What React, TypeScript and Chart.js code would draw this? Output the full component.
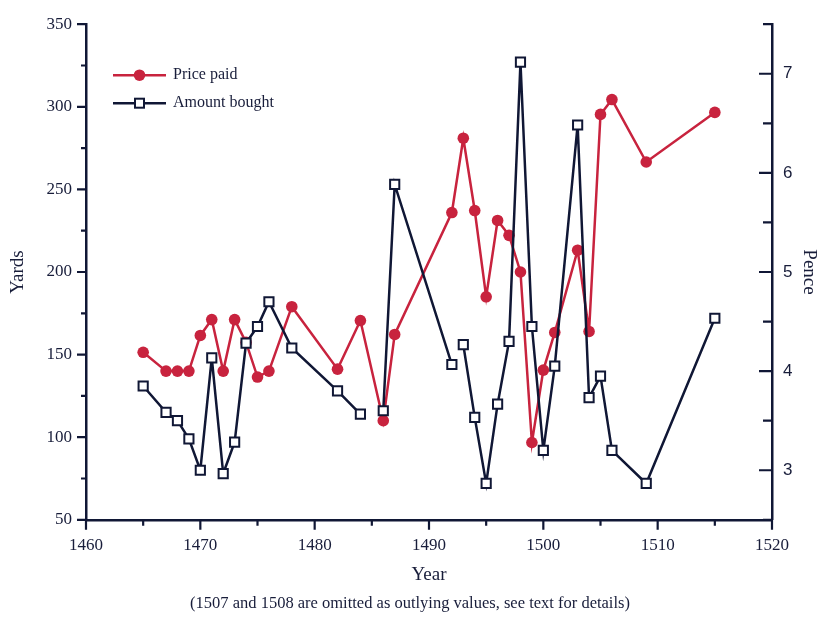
import React, { useEffect, useRef } from 'react';
import { Chart, registerables } from 'chart.js';

Chart.register(...registerables);

// ---- data ----
const years = [1465, 1467, 1468, 1469, 1470, 1471, 1472, 1473, 1474, 1475, 1476, 1478, 1482, 1484, 1486, 1487, 1492, 1493, 1494, 1495, 1496, 1497, 1498, 1499, 1500, 1501, 1503, 1504, 1505, 1506, 1509, 1515];
const pricePaid = [4.19, 4.0, 4.0, 4.0, 4.36, 4.52, 4.0, 4.52, 4.29, 3.94, 4.0, 4.65, 4.02, 4.51, 3.5, 4.37, 5.6, 6.35, 5.62, 4.75, 5.52, 5.37, 5.0, 3.28, 4.01, 4.39, 5.22, 4.4, 6.59, 6.74, 6.11, 6.61];
const amountBought = [131, 115, 110, 99, 80, 148, 78, 97, 157, 167, 182, 154, 128, 114, 116, 253, 144, 156, 112, 72, 120, 158, 327, 167, 92, 143, 289, 124, 137, 92, 72, 172];
// years after which the "Amount bought" line is broken
const amountGapsAfter = [1484, 1492];

const seriesLabels = ['Price paid', 'Amount bought'];
const xTitle = 'Year';
const yTitle = 'Yards';
const y1Title = 'Pence';
const footnote = '(1507 and 1508 are omitted as outlying values, see text for details)';

const RED = '#c8233e';
const NAVY = '#101735';
const TEXT = '#181d3a';
const SERIF = "'Liberation Serif', 'Times New Roman', serif";
const SANS = "'Liberation Sans', Arial, sans-serif";

const tickMarks = {
  id: 'tickMarks',
  afterDraw(chart: any) {
    const { ctx } = chart;
    const { x, y, y1 } = chart.scales;
    ctx.save();
    ctx.strokeStyle = NAVY;
    ctx.lineWidth = 2.2;
    ctx.beginPath();
    x.ticks.forEach((t: any) => {
      const px = x.getPixelForValue(t.value);
      const len = t.value % 10 === 0 ? 10 : 6;
      ctx.moveTo(px, x.top);
      ctx.lineTo(px, x.top + len);
    });
    y.ticks.forEach((t: any) => {
      const py = y.getPixelForValue(t.value);
      const len = t.value % 50 === 0 ? 9 : 5;
      ctx.moveTo(y.right, py);
      ctx.lineTo(y.right - len, py);
    });
    y1.ticks.forEach((t: any) => {
      const py = y1.getPixelForValue(t.value);
      const len = Math.abs(t.value - Math.round(t.value)) < 1e-6 ? 13 : 9;
      ctx.moveTo(y1.left, py);
      ctx.lineTo(y1.left - len, py);
    });
    ctx.stroke();
    ctx.restore();
  },
};

const inlineLegend = {
  id: 'inlineLegend',
  afterDraw(chart: any) {
    const { ctx, chartArea } = chart;
    const x0 = chartArea.left + 27;
    const rows = [chartArea.top + 51, chartArea.top + 79];
    ctx.save();
    chart.data.datasets.forEach((ds: any, i: number) => {
      const yy = rows[i];
      ctx.strokeStyle = ds.borderColor;
      ctx.lineWidth = 2.5;
      ctx.beginPath();
      ctx.moveTo(x0, yy);
      ctx.lineTo(x0 + 53, yy);
      ctx.stroke();
      const cx = x0 + 26.5;
      if (ds.pointStyle === 'rect') {
        ctx.fillStyle = '#ffffff';
        ctx.lineWidth = 2;
        ctx.fillRect(cx - 4.5, yy - 4.5, 9, 9);
        ctx.strokeRect(cx - 4.5, yy - 4.5, 9, 9);
      } else {
        ctx.fillStyle = ds.backgroundColor;
        ctx.beginPath();
        ctx.arc(cx, yy, 5.8, 0, Math.PI * 2);
        ctx.fill();
      }
      ctx.fillStyle = TEXT;
      ctx.font = `16px ${SERIF}`;
      ctx.textBaseline = 'middle';
      ctx.textAlign = 'left';
      ctx.fillText(ds.label, x0 + 60, yy);
    });
    ctx.restore();
  },
};

export default function App() {
  const canvasRef = useRef<HTMLCanvasElement | null>(null);

  useEffect(() => {
    const canvas = canvasRef.current;
    if (!canvas) return;
    const chart = new Chart(canvas, {
      type: 'line',
      data: {
        datasets: [
          {
            label: seriesLabels[0],
            data: years.map((yr, i) => ({ x: yr, y: pricePaid[i] })),
            yAxisID: 'y1',
            borderColor: RED,
            backgroundColor: RED,
            borderWidth: 2.5,
            pointStyle: 'circle',
            pointRadius: 5.8,
            pointBorderWidth: 0,
            pointBackgroundColor: RED,
            tension: 0,
            order: 2,
          },
          {
            label: seriesLabels[1],
            data: years.map((yr, i) => ({ x: yr, y: amountBought[i] })),
            yAxisID: 'y',
            borderColor: NAVY,
            backgroundColor: '#ffffff',
            borderWidth: 2.5,
            pointStyle: 'rect',
            pointRadius: 6.5,
            pointBorderWidth: 2,
            pointBorderColor: NAVY,
            pointBackgroundColor: '#ffffff',
            tension: 0,
            order: 1,
            segment: {
              borderColor: (c: any) => (amountGapsAfter.includes(c.p0.parsed.x) ? 'rgba(0,0,0,0)' : NAVY),
            },
          },
        ] as any,
      },
      options: {
        responsive: false,
        animation: false,
        layout: { padding: { top: 22, left: 0, right: 0, bottom: 0 } },
        plugins: {
          legend: { display: false },
          tooltip: { enabled: false },
          title: {
            display: true,
            position: 'bottom',
            text: footnote,
            color: TEXT,
            font: { family: SERIF, size: 16.5, weight: 'normal' },
            padding: { top: 0, bottom: 3 },
          },
        },
        scales: {
          x: {
            type: 'linear',
            min: 1460,
            max: 1520,
            grid: { display: false, drawTicks: false },
            border: { display: true, color: NAVY, width: 2.5 },
            ticks: {
              stepSize: 5,
              autoSkip: false,
              maxRotation: 0,
              padding: 16,
              color: TEXT,
              font: { family: SERIF, size: 17 },
              callback: (v: any) => (Number(v) % 10 === 0 ? String(v) : ''),
            },
            title: {
              display: true,
              text: xTitle,
              color: TEXT,
              font: { family: SERIF, size: 19 },
              padding: { top: 0, bottom: 8 },
            },
            afterFit: (s: any) => {
              s.height = 74.4;
            },
          },
          y: {
            type: 'linear',
            position: 'left',
            min: 50,
            max: 350,
            grid: { display: false, drawTicks: false },
            border: { display: true, color: NAVY, width: 2.5 },
            ticks: {
              stepSize: 25,
              autoSkip: false,
              padding: 14,
              color: TEXT,
              font: { family: SERIF, size: 17 },
              callback: (v: any) => (Number(v) % 50 === 0 ? String(v) : ''),
            },
            title: {
              display: true,
              text: yTitle,
              color: TEXT,
              font: { family: SERIF, size: 19 },
              padding: { top: 7, bottom: 0 },
            },
            afterFit: (s: any) => {
              s.width = 86;
            },
          },
          y1: {
            type: 'linear',
            position: 'right',
            min: 2.5,
            max: 7.5,
            grid: { display: false, drawTicks: false },
            border: { display: true, color: NAVY, width: 2.5 },
            ticks: {
              stepSize: 0.5,
              autoSkip: false,
              padding: 11,
              color: TEXT,
              font: { family: SANS, size: 17 },
              callback: (v: any) => (Math.abs(Number(v) - Math.round(Number(v))) < 1e-6 ? String(Math.round(Number(v))) : ''),
            },
            title: {
              display: true,
              text: y1Title,
              color: TEXT,
              font: { family: SERIF, size: 19 },
              padding: { top: 0, bottom: 0 },
            },
            afterFit: (s: any) => {
              s.width = 48;
            },
          },
        },
      } as any,
      plugins: [tickMarks, inlineLegend],
    });
    return () => chart.destroy();
  }, []);

  return (
    <div style={{ position: 'fixed', left: 0, top: 0, width: 820, height: 617, background: '#ffffff' }}>
      <canvas ref={canvasRef} width={820} height={617} style={{ display: 'block' }} />
    </div>
  );
}
